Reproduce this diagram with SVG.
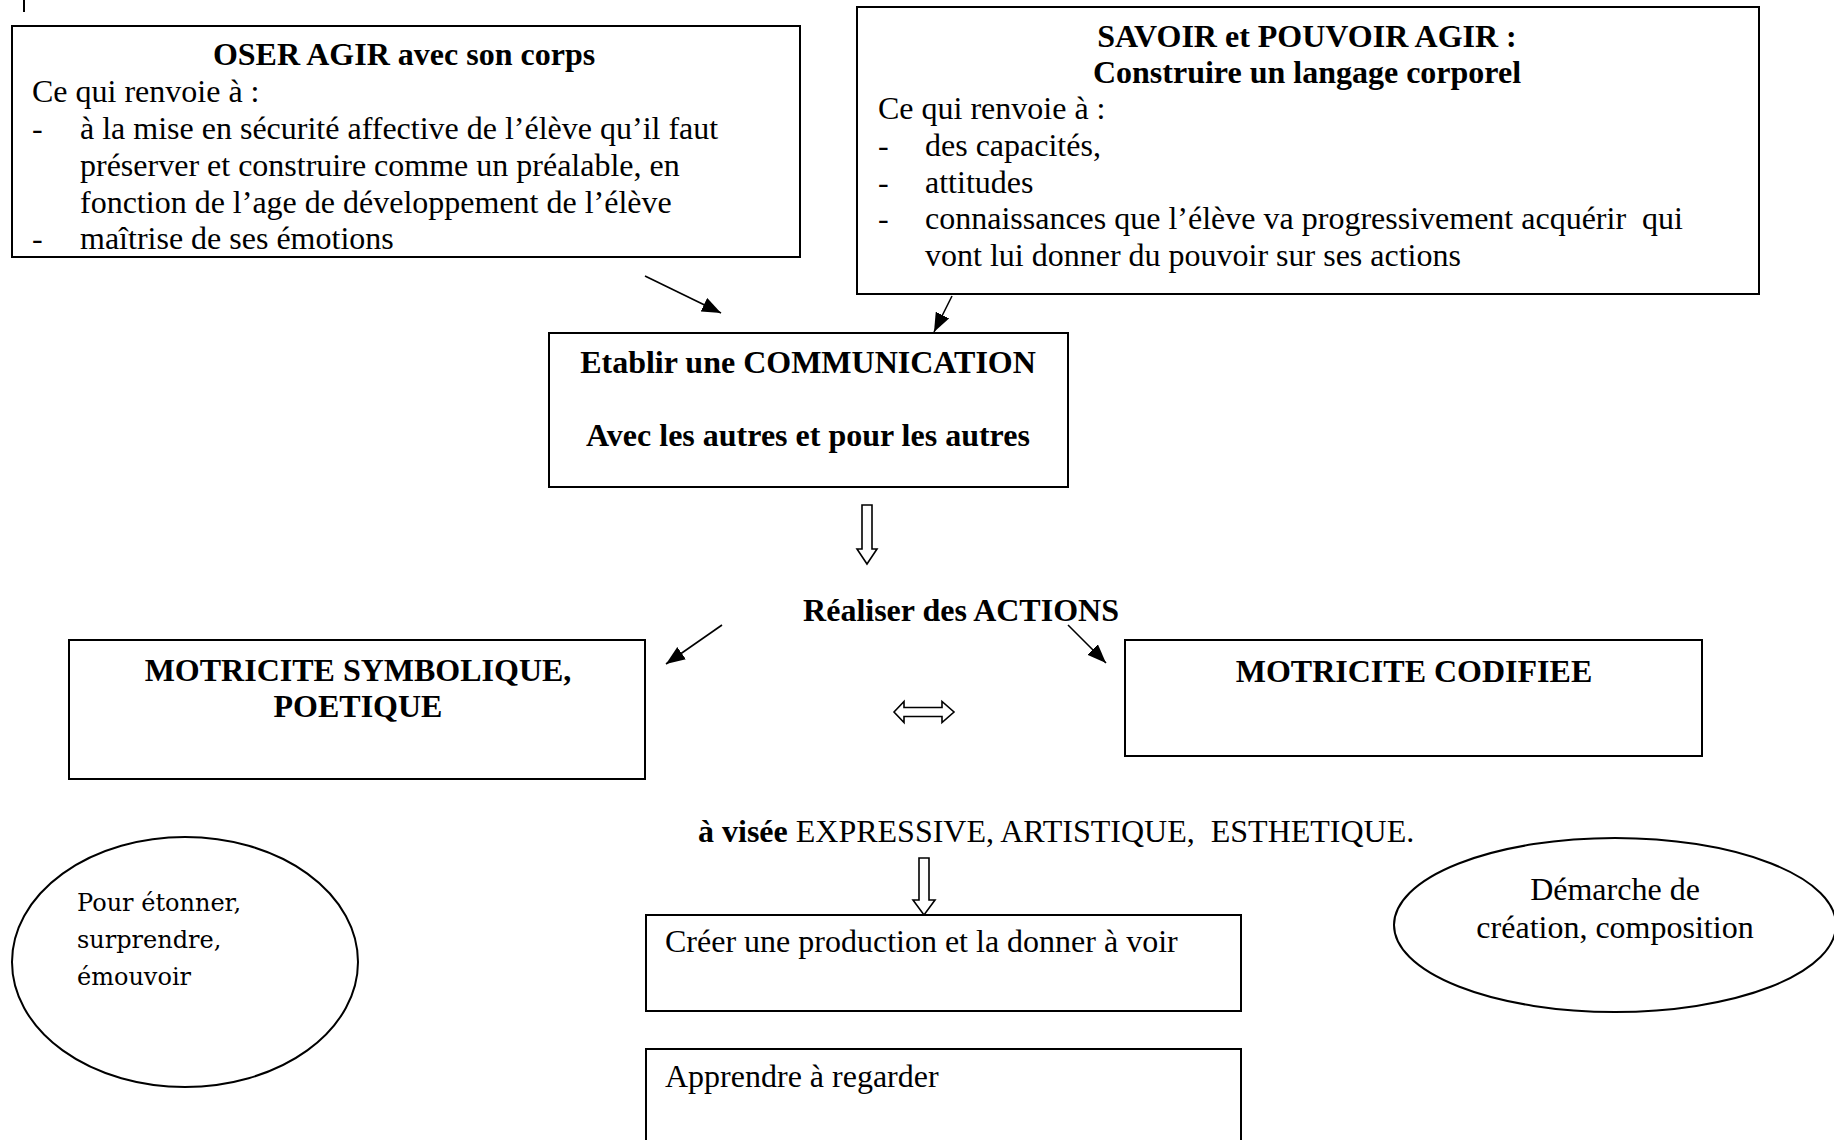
<svg xmlns="http://www.w3.org/2000/svg" width="1834" height="1140" viewBox="0 0 1834 1140">
  <style>
    .box { fill: #fff; stroke: #000; stroke-width: 2; }
    .ell { fill: none; stroke: #000; stroke-width: 2; }
    .t { font-family: "Liberation Serif", "Times New Roman", serif; font-size: 32px; fill: #000; }
    .b { font-weight: bold; }
    .c { text-anchor: middle; }
    .g { font-family: "DejaVu Serif", Georgia, serif; font-size: 24px; fill: #000; }
    .con { stroke: #000; stroke-width: 1.6; fill: none; }
    .hollow { fill: #fff; stroke: #000; stroke-width: 1.6; stroke-linejoin: miter; }
  </style>
  <defs>
    <marker id="ah" markerUnits="userSpaceOnUse" markerWidth="20" markerHeight="16" refX="19" refY="7.5" orient="auto">
      <path d="M0,0 L19,7.5 L0,15 z" fill="#000"/>
    </marker>
  </defs>
  <rect width="1834" height="1140" fill="#fff"/>
  <line x1="24" y1="0" x2="24" y2="12" stroke="#000" stroke-width="2"/>

  <g id="oser">
    <rect class="box" x="12" y="26" width="788" height="231"/>
    <text class="t b c" x="404" y="65">OSER AGIR avec son corps</text>
    <text class="t" x="32" y="102">Ce qui renvoie à :</text>
    <text class="t" x="32" y="139">-</text>
    <text class="t" x="80" y="139">à la mise en sécurité affective de l’élève qu’il faut</text>
    <text class="t" x="80" y="176">préserver et construire comme un préalable, en</text>
    <text class="t" x="80" y="213">fonction de l’age de développement de l’élève</text>
    <text class="t" x="32" y="249">-</text>
    <text class="t" x="80" y="249">maîtrise de ses émotions</text>
  </g>

  <g id="savoir">
    <rect class="box" x="857" y="7" width="902" height="287"/>
    <text class="t b c" x="1307" y="47">SAVOIR et POUVOIR AGIR :</text>
    <text class="t b c" x="1307" y="83">Construire un langage corporel</text>
    <text class="t" x="878" y="119">Ce qui renvoie à :</text>
    <text class="t" x="878" y="156">-</text>
    <text class="t" x="925" y="156">des capacités,</text>
    <text class="t" x="878" y="193">-</text>
    <text class="t" x="925" y="193">attitudes</text>
    <text class="t" x="878" y="229">-</text>
    <text class="t" x="925" y="229" xml:space="preserve">connaissances que l’élève va progressivement acquérir  qui</text>
    <text class="t" x="925" y="266">vont lui donner du pouvoir sur ses actions</text>
  </g>

  <g id="communication">
    <rect class="box" x="549" y="333" width="519" height="154"/>
    <text class="t b c" x="808" y="373">Etablir une COMMUNICATION</text>
    <text class="t b c" x="808" y="446">Avec les autres et pour les autres</text>
  </g>

  <g id="actions">
    <text class="t b c" x="961" y="621">Réaliser des ACTIONS</text>
  </g>

  <g id="motricite-symbolique">
    <rect class="box" x="69" y="640" width="576" height="139"/>
    <text class="t b c" x="358" y="681">MOTRICITE SYMBOLIQUE,</text>
    <text class="t b c" x="358" y="717">POETIQUE</text>
  </g>

  <g id="motricite-codifiee">
    <rect class="box" x="1125" y="640" width="577" height="116"/>
    <text class="t b c" x="1414" y="682">MOTRICITE CODIFIEE</text>
  </g>

  <g id="visee">
    <text class="t" x="698" y="842" xml:space="preserve"><tspan class="b">à visée</tspan> EXPRESSIVE, ARTISTIQUE,  ESTHETIQUE.</text>
  </g>

  <g id="etonner">
    <ellipse class="ell" cx="185" cy="962" rx="173" ry="125"/>
    <text class="g" x="77" y="911">Pour étonner,</text>
    <text class="g" x="77" y="948">surprendre,</text>
    <text class="g" x="77" y="985">émouvoir</text>
  </g>

  <g id="demarche">
    <ellipse class="ell" cx="1615" cy="925" rx="221" ry="87"/>
    <text class="t c" x="1615" y="900">Démarche de</text>
    <text class="t c" x="1615" y="938">création, composition</text>
  </g>

  <g id="creer">
    <rect class="box" x="646" y="915" width="595" height="96"/>
    <text class="t" x="665" y="952">Créer une production et la donner à voir</text>
  </g>

  <g id="apprendre">
    <rect class="box" x="646" y="1049" width="595" height="120"/>
    <text class="t" x="665" y="1087">Apprendre à regarder</text>
  </g>

  <g id="connectors">
    <line class="con" x1="645" y1="276" x2="721" y2="313" marker-end="url(#ah)"/>
    <line class="con" x1="952" y1="296" x2="934" y2="332" marker-end="url(#ah)"/>
    <line class="con" x1="722" y1="625" x2="666" y2="664" marker-end="url(#ah)"/>
    <line class="con" x1="1068" y1="625" x2="1106" y2="663" marker-end="url(#ah)"/>
    <path class="hollow" d="M862,505 L872,505 L872,549 L877,549 L867,564 L857,549 L862,549 Z"/>
    <path class="hollow" d="M919,858 L929,858 L929,900 L935,900 L924,915 L913,900 L919,900 Z"/>
    <path class="hollow" d="M894,712 L904,701.5 L904,707.5 L942,707.5 L942,701.5 L954,712 L942,722.5 L942,716.5 L904,716.5 L904,722.5 Z"/>
  </g>
</svg>
